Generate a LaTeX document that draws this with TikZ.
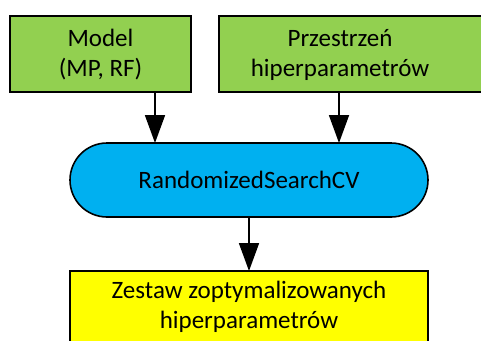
\documentclass[tikz,border=0pt]{standalone}
\usepackage{fontspec}
\setmainfont{Carlito}
\usetikzlibrary{arrows.meta}
\definecolor{boxgreen}{HTML}{92D050}
\definecolor{boxblue}{HTML}{00B0F0}
\definecolor{boxyellow}{HTML}{FFFF00}
\begin{document}
\begin{tikzpicture}[x=1pt,y=-1pt,
  every node/.style={font=\fontsize{25}{30}\selectfont, align=center, inner sep=0pt},
  box/.style={draw=black, line width=1.6pt},
  flow/.style={draw=black, line width=1.8pt, -{Triangle[length=28pt,width=20pt]}}]
\useasboundingbox (0,0) rectangle (481,340);
% input boxes
\draw[box, fill=boxgreen] (10,16) rectangle (191,92);
\node (model) at (100.5,55) {Model\\(MP, RF)};
\coordinate (modelout) at (155,92);
\draw[box, fill=boxgreen] (219,16) rectangle (495,92);
\node (space) at (340,55) {Przestrzeń\\hiperparametrów};
\coordinate (spaceout) at (339,92);
% search step
\draw[box, fill=boxblue, rounded corners=37pt] (70,143) rectangle (428,217);
\node (search) at (249,180) {RandomizedSearchCV};
\coordinate (searchin1) at (155,143);
\coordinate (searchin2) at (339,143);
\coordinate (searchout) at (249,217);
% result
\draw[box, fill=boxyellow] (70,271) rectangle (428,360);
\node (result) at (249,307) {Zestaw zoptymalizowanych\\hiperparametrów};
\coordinate (resultin) at (249,271);
% connectors
\draw[flow] (modelout) -- (searchin1);
\draw[flow] (spaceout) -- (searchin2);
\draw[flow] (searchout) -- (resultin);
\end{tikzpicture}
\end{document}
